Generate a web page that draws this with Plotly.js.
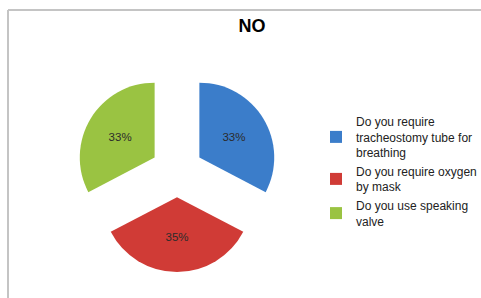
<!DOCTYPE html>
<html>
<head>
<meta charset="utf-8">
<script src="https://cdn.plot.ly/plotly-3.0.1.min.js"></script>
<style>
html,body{margin:0;padding:0;background:#fff;}
#chart{width:481px;height:298px;}
</style>
</head>
<body>
<div id="chart"></div>
<script>
const categories = [
  "Do you require<br>tracheostomy tube for<br>breathing",
  "Do you require oxygen<br>by mask",
  "Do you use speaking<br>valve"
];
const values = [33, 35, 33];
const sliceColors = ["#3b7dca", "#d03b36", "#9ac342"];
const chartTitle = "NO";

const W = 481, H = 298;
const data = [{
  type: "pie",
  labels: categories,
  values: values,
  sort: false,
  direction: "clockwise",
  rotation: 0,
  pull: [0.35, 0.35, 0.35],
  marker: {colors: sliceColors, line: {width: 0}},
  textinfo: "percent",
  texttemplate: "%{percent:.0%}",
  textposition: "inside",
  insidetextorientation: "horizontal",
  textfont: {family: "Liberation Sans, Arial, sans-serif", size: 11.5, color: "#2b2b2b"},
  domain: {x: [76/W, 278/W], y: [(H-272)/H, (H-70)/H]},
  hoverinfo: "none"
}];

const layout = {
  width: W, height: H,
  margin: {l: 0, r: 0, t: 0, b: 0, autoexpand: false},
  paper_bgcolor: "#ffffff",
  showlegend: true,
  title: {
    text: "<b>" + chartTitle + "</b>",
    x: 252/W, xanchor: "center",
    y: 1 - 26/H, yanchor: "middle",
    font: {family: "Liberation Sans, Arial, sans-serif", size: 18, color: "#000"}
  },
  legend: {
    x: 316/W, xanchor: "left",
    y: 1 - 107/H, yanchor: "top",
    font: {family: "Liberation Sans, Arial, sans-serif", size: 12, color: "#222"},
    bgcolor: "rgba(0,0,0,0)",
    itemclick: false
  },
  shapes: [
    {type: "line", xref: "paper", yref: "paper", x0: 8/W, x1: 1, y0: 1 - 10/H, y1: 1 - 10/H, line: {color: "#c4c4c4", width: 2}},
    {type: "line", xref: "paper", yref: "paper", x0: 8/W, x1: 8/W, y0: 0, y1: 1 - 10/H, line: {color: "#c4c4c4", width: 2}}
  ]
};

Plotly.newPlot("chart", data, layout, {staticPlot: true, displayModeBar: false});
</script>
</body>
</html>
